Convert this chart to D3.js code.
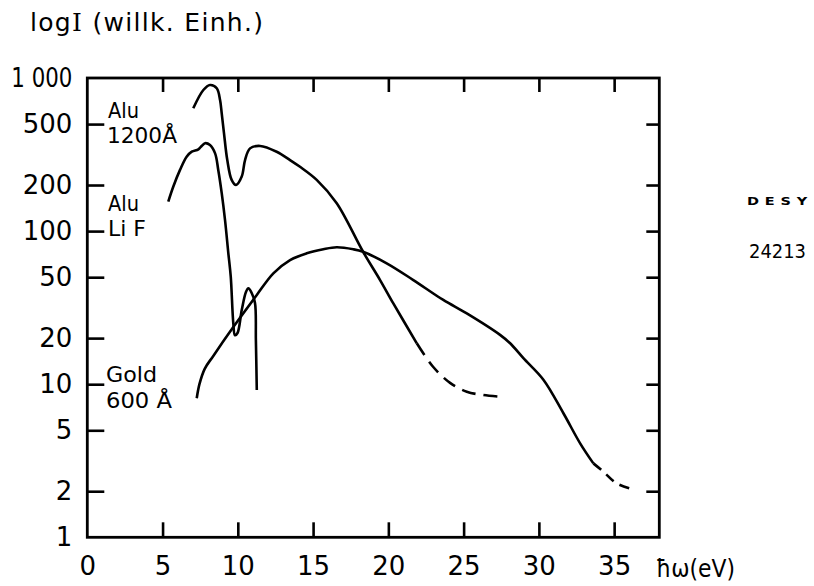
<!DOCTYPE html>
<html>
<head>
<meta charset="utf-8">
<script src="https://cdn.jsdelivr.net/npm/d3@7"></script>
<style>
  html, body { margin: 0; padding: 0; background: #fff; }
  svg { display: block; }
  text { font-family: "DejaVu Sans", "Liberation Sans", sans-serif; fill: #000; }
</style>
</head>
<body>
<svg id="chart" width="814" height="586"></svg>
<script>
// Photon energy (eV) and intensity (arbitrary units, log scale)
const alu1200Energy = [7.04, 7.71, 8.15, 8.60, 8.82, 8.93, 9.08, 9.30, 9.59, 9.88, 10.26, 10.48, 10.81, 11.48, 12.58, 13.47, 14.13, 15.24, 16.57, 18.32, 19.45, 20.33, 21.89];
const alu1200Value  = [634, 835, 900, 857, 718, 588, 437, 291, 216, 200, 227, 291, 347, 360, 330, 291, 263, 216, 152, 73.3, 47.9, 33.7, 18.5];
const alu1200ExtEnergy = [21.89, 22.97, 24.10, 25.21, 26.30, 27.36];
const alu1200ExtValue  = [18.5, 13.0, 10.2, 8.93, 8.50, 8.29];

const aluLiFEnergy = [5.38, 5.71, 6.16, 6.60, 6.94, 7.38, 7.60, 7.82, 8.15, 8.49, 8.70, 8.93, 9.15, 9.37, 9.53, 9.70, 9.81, 9.98, 10.26, 10.54, 10.70, 10.92, 11.14, 11.20, 11.26];
const aluLiFValue  = [156, 195, 251, 306, 330, 342, 360, 375, 365, 322, 251, 177, 118, 71.6, 50.4, 25.0, 20.9, 21.6, 30.5, 40.0, 42.3, 39.4, 33.9, 19.4, 9.17];

const goldEnergy = [7.27, 7.45, 7.80, 8.37, 9.70, 11.26, 12.36, 13.47, 14.58, 15.68, 16.57, 17.67, 18.32, 19.89, 21.66, 23.65, 25.21, 27.42, 28.09, 28.97, 30.30, 31.63, 32.74, 33.62];
const goldValue  = [8.09, 10.0, 12.6, 15.3, 23.6, 38.3, 53.0, 64.7, 71.6, 76.1, 78.4, 76.1, 73.3, 61.6, 47.9, 35.5, 29.0, 21.0, 18.5, 14.8, 10.7, 6.46, 4.11, 3.04];
const goldExtEnergy = [33.62, 34.29, 35.17, 36.39];
const goldExtValue  = [3.04, 2.68, 2.25, 2.04];

const xTicks = [0, 5, 10, 15, 20, 25, 30, 35];
const yTicks = [1, 2, 5, 10, 20, 50, 100, 200, 500, 1000];
const yTickLabels = ["1", "2", "5", "10", "20", "50", "100", "200", "500", "1 000"];

const svg = d3.select("#chart");
const plotLeft = 87.3, plotRight = 659.3, plotTop = 78, plotBottom = 537.3;

const x = d3.scaleLinear().domain([0, 38]).range([plotLeft, plotRight]);
const y = d3.scaleLog().domain([1, 1000]).range([plotBottom, plotTop]);

const ink = "#000";

// Axes with inward ticks
const axisStyle = g => {
  g.select(".domain").remove();
  g.selectAll(".tick line").attr("stroke", ink).attr("stroke-width", 2.6);
  g.selectAll(".tick text").style("font-size", "26px").attr("fill", ink);
};

svg.append("g")
  .attr("transform", `translate(0,${plotBottom})`)
  .call(d3.axisBottom(x).tickValues(xTicks).tickSize(-15).tickPadding(19).tickFormat(d3.format("d")))
  .call(axisStyle)
  .call(g => g.selectAll(".tick").filter(d => d === 0).select("line").remove());

svg.append("g")
  .attr("transform", `translate(0,${plotTop})`)
  .call(d3.axisTop(x).tickValues(xTicks.filter(d => d > 0)).tickSize(-14).tickFormat(""))
  .call(axisStyle);

svg.append("g")
  .attr("transform", `translate(${plotLeft},0)`)
  .call(d3.axisLeft(y).tickValues(yTicks).tickSize(-17).tickPadding(15)
    .tickFormat((d, i) => yTickLabels[i]))
  .call(axisStyle)
  .call(g => g.selectAll(".tick").filter(d => d === 1 || d === 1000).select("line").remove())
  .call(g => g.selectAll(".tick").filter(d => d === 1000).select("text")
    .attr("textLength", 61).attr("lengthAdjust", "spacingAndGlyphs"));

svg.append("g")
  .attr("transform", `translate(${plotRight},0)`)
  .call(d3.axisRight(y).tickValues(yTicks.filter(d => d > 1 && d < 1000)).tickSize(-13).tickFormat(""))
  .call(axisStyle);

// Frame
svg.append("rect")
  .attr("x", plotLeft).attr("y", plotTop)
  .attr("width", plotRight - plotLeft).attr("height", plotBottom - plotTop)
  .attr("fill", "none").attr("stroke", ink).attr("stroke-width", 2.8);

// Curves
const line = d3.line()
  .x(d => x(d[0]))
  .y(d => y(d[1]))
  .curve(d3.curveCatmullRom.alpha(0.5));

const zip = (a, b) => a.map((v, i) => [v, b[i]]);

const curves = [
  { pts: zip(alu1200Energy, alu1200Value), dash: null },
  { pts: zip(alu1200ExtEnergy, alu1200ExtValue), dash: "14,8" },
  { pts: zip(aluLiFEnergy, aluLiFValue), dash: null },
  { pts: zip(goldEnergy, goldValue), dash: null },
  { pts: zip(goldExtEnergy, goldExtValue), dash: "10,7" }
];

svg.append("g").selectAll("path")
  .data(curves)
  .join("path")
  .attr("d", c => line(c.pts))
  .attr("fill", "none")
  .attr("stroke", ink)
  .attr("stroke-width", 2.6)
  .attr("stroke-linecap", "butt")
  .attr("stroke-linejoin", "round")
  .attr("stroke-dasharray", c => c.dash);

// Curve labels
const labels = [
  { t: "Alu", x: 108, y: 118, w: 31 },
  { t: "1200Å", x: 107, y: 143, w: 70 },
  { t: "Alu", x: 108, y: 211, w: 31 },
  { t: "Li F", x: 108, y: 236, w: 38 },
  { t: "Gold", x: 106, y: 382, w: 51 },
  { t: "600 Å", x: 106, y: 408, w: 66 }
];
svg.append("g").selectAll("text")
  .data(labels)
  .join("text")
  .attr("x", d => d.x).attr("y", d => d.y)
  .attr("textLength", d => d.w).attr("lengthAdjust", "spacingAndGlyphs")
  .style("font-size", "22px")
  .text(d => d.t);

// Axis titles
const title = svg.append("text")
  .attr("x", 30).attr("y", 31)
  .attr("textLength", 233).attr("lengthAdjust", "spacing")
  .style("font-size", "25px");
title.append("tspan").text("log");
title.append("tspan").style("font-family", "'DejaVu Serif', serif").text("I");
title.append("tspan").text(" (willk. Einh.)");

svg.append("text")
  .attr("x", 656).attr("y", 577)
  .attr("textLength", 79).attr("lengthAdjust", "spacingAndGlyphs")
  .style("font-size", "25px")
  .text("ħω(eV)");

// Archive stamp
svg.append("text")
  .attr("transform", "translate(747,205) scale(1.45,1)")
  .style("font-size", "10px").style("font-weight", "bold")
  .attr("letter-spacing", "4")
  .text("DESY");

svg.append("text")
  .attr("x", 749).attr("y", 258)
  .attr("textLength", 57).attr("lengthAdjust", "spacingAndGlyphs")
  .style("font-size", "19px")
  .text("24213");
</script>
</body>
</html>
